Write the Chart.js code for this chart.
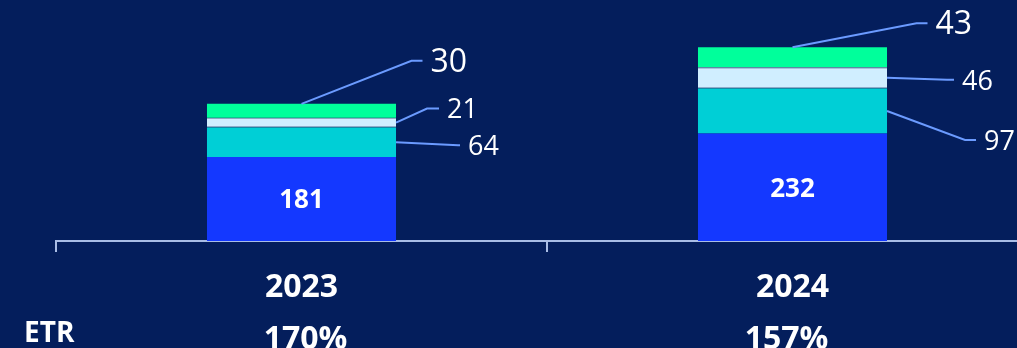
<!DOCTYPE html>
<html>
<head>
<meta charset="utf-8">
<script src="https://cdn.jsdelivr.net/npm/chart.js@4.4.1/dist/chart.umd.min.js"></script>
<style>
  html, body { margin: 0; padding: 0; background: #041E5C; overflow: hidden; }
  #wrap { width: 1038px; height: 348px; position: relative; }
</style>
</head>
<body>
<div id="wrap"><canvas id="c" width="1038" height="348"></canvas></div>
<script>
// ---- data ----
const categories = ["2023", "2024"];
const seriesBase   = [181, 232];   // blue
const seriesTeal   = [64, 97];     // teal
const seriesLight  = [21, 46];     // light blue
const seriesGreen  = [30, 43];     // green
const etrLabel = "ETR";
const etrValues = ["170%", "157%"];

// ---- styles ----
const BG = "#041E5C";
const LINE = "#6B9BFF";
const FONT = "'Open Sans', 'Noto Sans', sans-serif";

// leader-line style per dataset index (1 teal, 2 light, 3 green), per bar
// anchor: 'top' = top centre of segment, 'side' = right edge at segment middle
const leaderStyle = {
  1: { anchor: "side", size: 27, pts: [[62, 3, 2], [78, 29, 11]] },
  2: { anchor: "side", size: 27, pts: [[31, -14, 12], [60, 2, 7]] },
  3: { anchor: "top",  size: 32, pts: [[110, -43, 11], [124, -24, 11]] }
};
const etrDx = [4, -6];

const leaderPlugin = {
  id: "leaders",
  afterDatasetsDraw(chart) {
    const ctx = chart.ctx;
    ctx.save();
    // inner labels for base series
    const m0 = chart.getDatasetMeta(0);
    ctx.fillStyle = "#FFFFFF";
    ctx.font = "bold 26px " + FONT;
    ctx.textAlign = "center";
    ctx.textBaseline = "middle";
    m0.data.forEach((bar, i) => {
      ctx.fillText(String(chart.data.datasets[0].data[i]), bar.x, (bar.y + bar.base) / 2 + 2);
    });
    // leader lines
    [1, 2, 3].forEach(di => {
      const st = leaderStyle[di];
      const meta = chart.getDatasetMeta(di);
      meta.data.forEach((bar, i) => {
        let ax, ay;
        if (st.anchor === "top") { ax = bar.x; ay = bar.y; }
        else { ax = bar.x + bar.width / 2; ay = (bar.y + bar.base) / 2; }
        const [dx, dy, hx] = st.pts[i];
        const ex = ax + dx, ey = ay + dy;
        ctx.strokeStyle = LINE;
        ctx.lineWidth = 2;
        ctx.beginPath();
        ctx.moveTo(ax, ay);
        ctx.lineTo(ex, ey);
        ctx.lineTo(ex + hx, ey);
        ctx.stroke();
        ctx.fillStyle = "#FFFFFF";
        ctx.font = st.size + "px " + FONT;
        ctx.textAlign = "left";
        ctx.textBaseline = "middle";
        ctx.fillText(String(chart.data.datasets[di].data[i]), ex + hx + 8, ey + 2);
      });
    });
    // ETR row
    const xs = chart.scales.x;
    ctx.fillStyle = "#FFFFFF";
    ctx.textBaseline = "middle";
    ctx.font = "bold 28px " + FONT;
    ctx.textAlign = "left";
    ctx.fillText(etrLabel, 24, 334);
    ctx.font = "bold 32px " + FONT;
    ctx.textAlign = "center";
    etrValues.forEach((v, i) => {
      ctx.fillText(v, xs.getPixelForValue(i) + etrDx[i], 340);
    });
    ctx.restore();
  }
};

new Chart(document.getElementById("c"), {
  type: "bar",
  data: {
    labels: categories,
    datasets: [
      { data: seriesBase,  backgroundColor: "#1438FF" },
      { data: seriesTeal,  backgroundColor: "#00CFD6" },
      { data: seriesLight, backgroundColor: "#D0EEFF", borderColor: "#9DB6CC", borderWidth: { top: 1, bottom: 1 }, borderSkipped: false },
      { data: seriesGreen, backgroundColor: "#00FF9B" }
    ]
  },
  options: {
    responsive: false,
    animation: false,
    devicePixelRatio: 1,
    layout: { padding: { left: 56, right: 0, top: 0, bottom: 0 } },
    categoryPercentage: 1,
    barPercentage: 0.385,
    plugins: { legend: { display: false }, tooltip: { enabled: false } },
    scales: {
      x: {
        stacked: true,
        offset: true,
        afterFit(scale) { scale.height = 107; },
        grid: { display: true, offset: true, drawOnChartArea: false, drawTicks: true, tickLength: 11, color: "#A9BDE6", lineWidth: 2 },
        border: { display: true, color: "#A9BDE6", width: 2 },
        ticks: { color: "#FFFFFF", font: { family: FONT, size: 32, weight: "bold" }, padding: 17, maxRotation: 0 }
      },
      y: {
        stacked: true,
        display: false,
        min: 0,
        max: 520
      }
    }
  },
  plugins: [leaderPlugin]
});
</script>
</body>
</html>
